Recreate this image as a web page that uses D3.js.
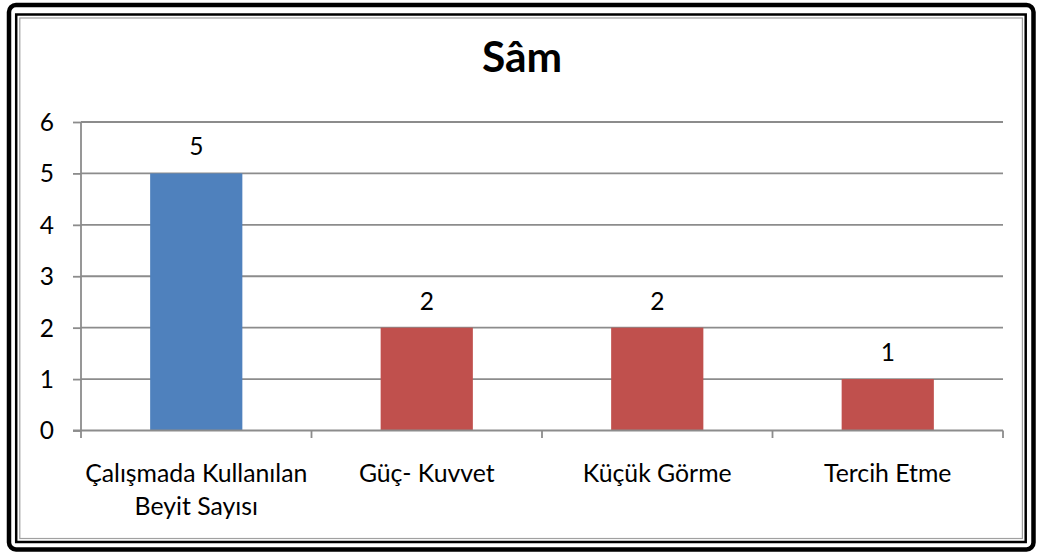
<!DOCTYPE html>
<html>
<head>
<meta charset="utf-8">
<script src="https://cdn.jsdelivr.net/npm/d3@7/dist/d3.min.js"></script>
<style>
  html, body { margin: 0; padding: 0; background: #fff; }
  svg { display: block; }
  text { font-family: Lato, "Open Sans", sans-serif; fill: #000; }
</style>
</head>
<body>
<svg id="chart" width="1038" height="555"></svg>
<script>
const title = "Sâm";
const categories = ["Çalışmada Kullanılan\nBeyit Sayısı", "Güç- Kuvvet", "Küçük Görme", "Tercih Etme"];
const values = [5, 2, 2, 1];
const barColors = ["#4F81BD", "#C0504D", "#C0504D", "#C0504D"];
const yTicks = [0, 1, 2, 3, 4, 5, 6];

(function () {
const svg = d3.select("#chart");

// frame
svg.append("rect").attr("x", 9).attr("y", 5).attr("width", 1024.5).attr("height", 544.5)
  .attr("rx", 7).attr("fill", "none").attr("stroke", "#000").attr("stroke-width", 4.5);
svg.append("rect").attr("x", 16.2).attr("y", 14.5).attr("width", 1009.5).attr("height", 527.5)
  .attr("fill", "none").attr("stroke", "#000").attr("stroke-width", 2.5);
svg.append("rect").attr("x", 19.8).attr("y", 18).attr("width", 1002.6).attr("height", 520.5)
  .attr("fill", "none").attr("stroke", "#a0a0a0").attr("stroke-width", 1.2);

const pLeft = 81, pRight = 1003, pTop = 122, pBottom = 430.5;

const x = d3.scaleBand().domain(categories).range([pLeft, pRight]).paddingInner(0.6).paddingOuter(0.3);
const y = d3.scaleLinear().domain([0, 6]).range([pBottom, pTop]);

const grid = "#8c8c8c";

// gridlines
svg.append("g").selectAll("line").data(yTicks.filter(d => d > 0)).join("line")
  .attr("x1", pLeft).attr("x2", pRight)
  .attr("y1", d => y(d)).attr("y2", d => y(d))
  .attr("stroke", grid).attr("stroke-width", 1.8);

// bars
svg.append("g").selectAll("rect").data(values).join("rect")
  .attr("x", (d, i) => x(categories[i]))
  .attr("width", x.bandwidth())
  .attr("y", d => y(d))
  .attr("height", d => y(0) - y(d))
  .attr("fill", (d, i) => barColors[i]);

// y axis
const yAxis = d3.axisLeft(y).tickValues(yTicks).tickSize(8).tickPadding(19).tickFormat(d3.format("d"));
const ya = svg.append("g").attr("transform", `translate(${pLeft},0)`).call(yAxis);
ya.select(".domain").attr("stroke", grid).attr("stroke-width", 1.8).attr("d", `M0,${pTop}V${pBottom + 0.5}`);
ya.selectAll(".tick line").attr("stroke", grid).attr("stroke-width", 1.8);
ya.selectAll(".tick text").attr("font-size", 24.5).attr("font-family", "Lato, sans-serif").attr("fill", "#000").attr("dy", "0.34em");

// x axis baseline and ticks
svg.append("line").attr("x1", pLeft - 8).attr("x2", pRight).attr("y1", pBottom).attr("y2", pBottom)
  .attr("stroke", grid).attr("stroke-width", 1.8);
const bounds = categories.map(c => x(c) - x.step() * x.paddingInner() / 2).concat([pRight]);
svg.append("g").selectAll("line").data(bounds).join("line")
  .attr("x1", d => d).attr("x2", d => d).attr("y1", pBottom).attr("y2", pBottom + 7.5)
  .attr("stroke", grid).attr("stroke-width", 1.8);

// category labels
const cl = svg.append("g").selectAll("text").data(categories).join("text")
  .attr("x", d => x(d) + x.bandwidth() / 2)
  .attr("y", 482)
  .attr("text-anchor", "middle")
  .attr("font-size", 24.8);
cl.each(function (d) {
  const t = d3.select(this);
  d.split("\n").forEach((line, i) => {
    t.append("tspan").attr("x", x(d) + x.bandwidth() / 2).attr("dy", i === 0 ? 0 : 33).text(line);
  });
});

// data labels
svg.append("g").selectAll("text").data(values).join("text")
  .attr("x", (d, i) => x(categories[i]) + x.bandwidth() / 2)
  .attr("y", d => y(d) - 18)
  .attr("text-anchor", "middle")
  .attr("font-size", 24.5)
  .text(d => d);

// title
svg.append("text").attr("x", 522).attr("y", 72).attr("text-anchor", "middle")
  .attr("font-size", 42.5).attr("font-weight", "bold").text(title);
})();
</script>
</body>
</html>
